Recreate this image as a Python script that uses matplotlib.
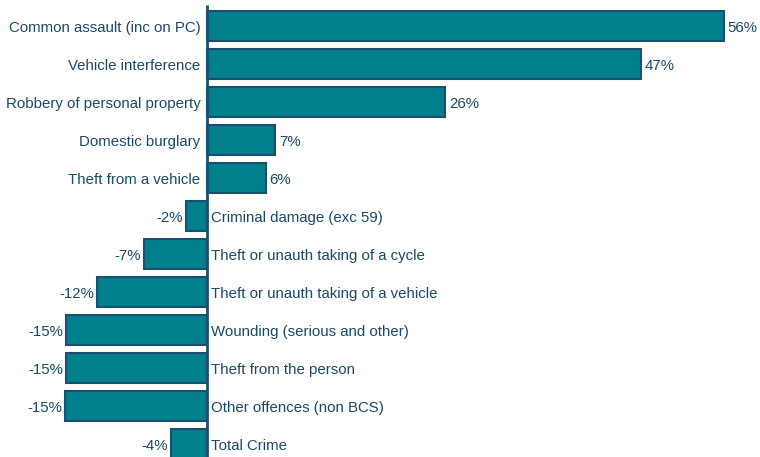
import matplotlib.pyplot as plt

categories = ["Common assault (inc on PC)", "Vehicle interference",
              "Robbery of personal property", "Domestic burglary",
              "Theft from a vehicle", "Criminal damage (exc 59)",
              "Theft or unauth taking of a cycle",
              "Theft or unauth taking of a vehicle",
              "Wounding (serious and other)", "Theft from the person",
              "Other offences (non BCS)", "Total Crime"]
changes = [56.0, 47.0, 25.8, 7.4, 6.4, -2.3, -6.8, -11.9, -15.3, -15.3, -15.4, -3.9]
value_labels = ["56%", "47%", "26%", "7%", "6%", "-2%", "-7%", "-12%",
                "-15%", "-15%", "-15%", "-4%"]

fill = "#00808c"
edge = "#1b4f6e"
txt = "#1a4a6a"

plt.rcParams['font.family'] = ['Liberation Sans', 'DejaVu Sans']

fig = plt.figure(figsize=(7.6, 4.57), dpi=100)
ax = fig.add_axes([0, 0, 1, 1])

y = list(range(len(categories)))
ax.barh(y, changes, height=0.79, color=fill, edgecolor=edge, linewidth=1.5)

for i, (cat, v, lab) in enumerate(zip(categories, changes, value_labels)):
    if v >= 0:
        ax.text(-0.7, i + 0.05, cat, ha="right", va="center", color=txt, fontsize=10.8)
        ax.text(v + 0.4, i + 0.05, lab, ha="left", va="center", color=txt, fontsize=10.8)
    else:
        ax.text(0.4, i + 0.05, cat, ha="left", va="center", color=txt, fontsize=10.8)
        ax.text(v - 0.3, i + 0.05, lab, ha="right", va="center", color=txt, fontsize=10.8)

ax.vlines(0, -0.55, 11.4, color=edge, linewidth=2)

ax.set_xlim(-22.4, 59.9)
ax.set_ylim(11.34, -0.684)
ax.axis("off")

fig.savefig("out.png", dpi=100)
